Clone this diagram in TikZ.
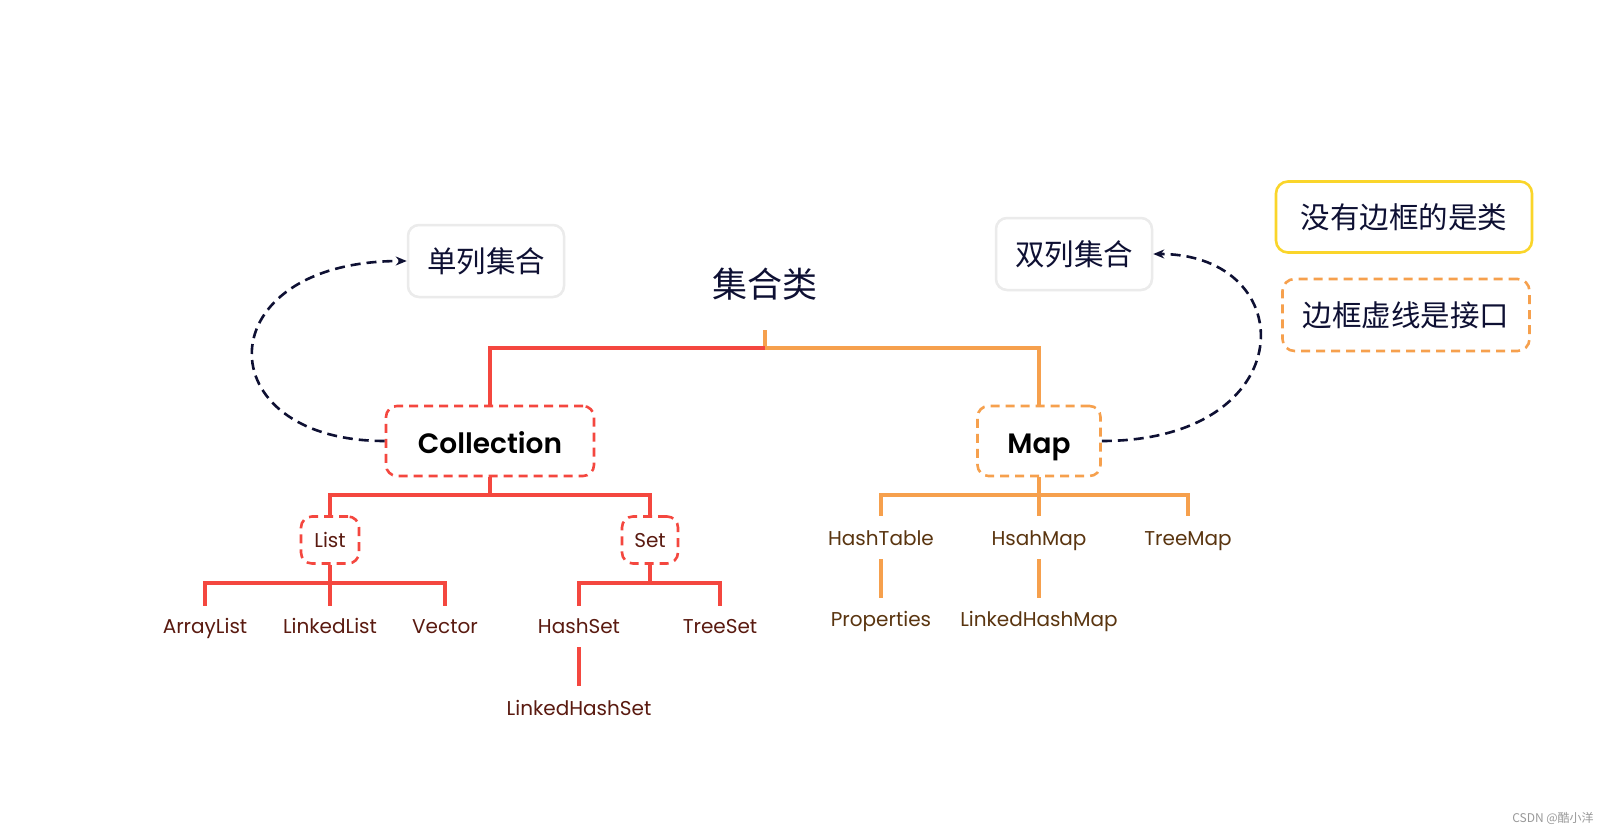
\documentclass[tikz,border=0pt]{standalone}
\usepackage{fontspec}
\setmainfont{Poppins}[BoldFont={Poppins SemiBold}]
\newfontfamily\cjk{Noto Sans CJK SC}
\usetikzlibrary{arrows.meta}
\definecolor{cred}{HTML}{F4473F}
\definecolor{corange}{HTML}{F6A04D}
\definecolor{tred}{HTML}{5A1A10}
\definecolor{torange}{HTML}{5A3510}
\definecolor{navy}{HTML}{0E1033}
\definecolor{gborder}{HTML}{EBEBEB}
\definecolor{yborder}{HTML}{FAD52A}
\tikzset{
  redline/.style={draw=cred, line width=3.3pt},
  orline/.style={draw=corange, line width=3.3pt},
  ifacered/.style={draw=cred, line width=2.6pt, dash pattern=on 9pt off 6pt, rounded corners=11pt, inner sep=0pt},
  ifaceor/.style={draw=corange, line width=2.6pt, dash pattern=on 9pt off 6pt, rounded corners=11pt, inner sep=0pt},
  bigtxt/.style={font=\fontsize{28}{32}\selectfont\bfseries, text=black, text height=25pt, text depth=0pt},
  midtxt/.style={font=\fontsize{20}{24}\selectfont, text height=14pt, text depth=0pt},
  leafred/.style={font=\fontsize{20}{24}\selectfont, text=tred, inner sep=0pt, text height=14pt, text depth=0pt},
  leafor/.style={font=\fontsize{20}{24}\selectfont, text=torange, inner sep=0pt, text height=14pt, text depth=0pt},
  cjkbox/.style={font=\cjk\fontsize{29.5}{33}\selectfont, text=navy},
  graybox/.style={cjkbox, draw=gborder, line width=2.5pt, rounded corners=11pt, minimum width=156pt, minimum height=72pt},
  arc/.style={draw=navy, line width=2.6pt, dash pattern=on 10pt off 6pt, -{Stealth[length=11pt,width=9pt]}},
}
\begin{document}
\begin{tikzpicture}[x=1pt,y=-1pt]
\fill[white] (0,0) rectangle (1618,835);
\useasboundingbox (0,0) rectangle (1618,835);

% title
\node[font=\cjk\fontsize{35}{38}\selectfont, text=navy] (title) at (765,284) {集合类};
\coordinate (jt) at (765,330);
\coordinate (j) at (765,348);

% main nodes
\node[ifacered, minimum width=208pt, minimum height=70pt, bigtxt] (coll) at (490,441) {Collection};
\node[ifaceor, minimum width=123pt, minimum height=70pt, bigtxt] (map) at (1039,441) {Map};

\draw[orline] (jt) -- (j);
\draw[redline] (j) -| (coll.north);
\draw[orline] (j) -| (map.north);

% collection sub
\node[ifacered, minimum width=58pt, minimum height=47pt, midtxt, text=tred] (list) at (330,540) {List};
\node[ifacered, minimum width=56pt, minimum height=47pt, midtxt, text=tred] (set) at (650,540) {Set};
\coordinate (cb) at (490,495);
\draw[redline] (coll.south) -- (cb);
\draw[redline] (cb) -| (list.north);
\draw[redline] (cb) -| (set.north);

% list leaves
\node[leafred] (arraylist) at (205,626) {ArrayList};
\node[leafred] (linkedlist) at (330,626) {LinkedList};
\node[leafred] (vector) at (445,626) {Vector};
\coordinate (lb) at (330,583);
\coordinate (alt) at (205,606);
\coordinate (llt) at (330,606);
\coordinate (vt) at (445,606);
\draw[redline] (list.south) -- (llt);
\draw[redline] (lb) -| (alt);
\draw[redline] (lb) -| (vt);

% set leaves
\node[leafred] (hashset) at (579,626) {HashSet};
\node[leafred] (treeset) at (720,626) {TreeSet};
\node[leafred] (lhs) at (579,708) {LinkedHashSet};
\coordinate (sb) at (650,583);
\coordinate (hst) at (579,606);
\coordinate (tst) at (720,606);
\draw[redline] (set.south) -- (sb);
\draw[redline] (sb) -| (hst);
\draw[redline] (sb) -| (tst);
\coordinate (hsb) at (579,647);
\coordinate (lhst) at (579,686);
\draw[redline] (hsb) -- (lhst);

% map leaves
\node[leafor] (hashtable) at (881,538) {HashTable};
\node[leafor] (hsahmap) at (1039,538) {HsahMap};
\node[leafor] (treemap) at (1188,538) {TreeMap};
\node[leafor] (props) at (881,619) {Properties};
\node[leafor] (lhm) at (1039,619) {LinkedHashMap};
\coordinate (mb) at (1039,495);
\coordinate (htt) at (881,516);
\coordinate (hmt) at (1039,516);
\coordinate (tmt) at (1188,516);
\draw[orline] (map.south) -- (hmt);
\draw[orline] (mb) -| (htt);
\draw[orline] (mb) -| (tmt);
\coordinate (htb) at (881,559);
\coordinate (pt) at (881,598);
\coordinate (hmb) at (1039,559);
\coordinate (lhmt) at (1039,598);
\draw[orline] (htb) -- (pt);
\draw[orline] (hmb) -- (lhmt);

% gray boxes
\node[graybox] (single) at (486,261) {单列集合};
\node[graybox] (double) at (1074,254) {双列集合};

\draw[arc] (coll.west) .. controls (205,441) and (205,261) .. (single.west);
\draw[arc] (map.east) .. controls (1303,441) and (1303,254) .. (double.east);

% legend
\node[cjkbox, draw=yborder, line width=2.6pt, rounded corners=12pt, minimum width=256pt, minimum height=71pt] (leg1) at (1404,217) {没有边框的是类};
\node[cjkbox, draw=corange, line width=2.6pt, dash pattern=on 9pt off 6pt, rounded corners=12pt, minimum width=247pt, minimum height=72pt] (leg2) at (1406,315) {边框虚线是接口};

% watermark
\node[font=\cjk\fontsize{12}{14}\selectfont, text=gray!80] (wm) at (1553,818) {CSDN @酷小洋};
\end{tikzpicture}
\end{document}
